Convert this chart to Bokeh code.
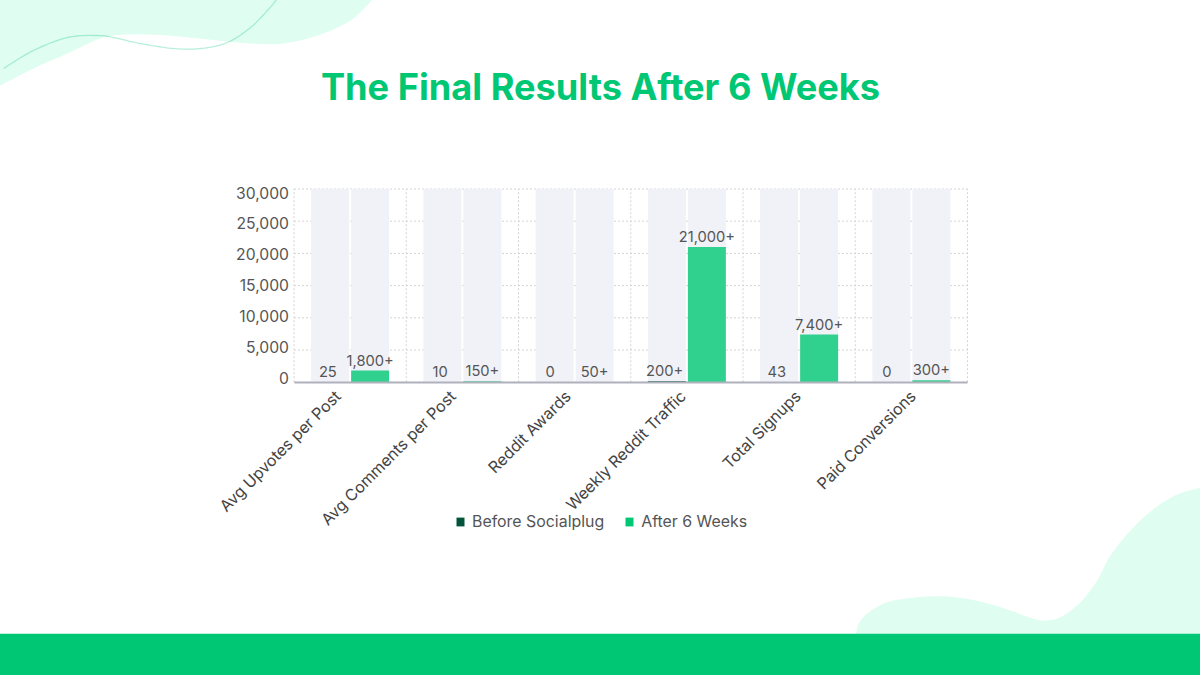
import math
from bokeh.core.properties import value
from bokeh.embed import file_html
from bokeh.resources import INLINE
from bokeh.plotting import figure
from bokeh.models import (ColumnDataSource, Range1d, FixedTicker, LabelSet, Label, LinearAxis,
                          Legend, LegendItem, PolyAnnotation)

categories = ["Avg Upvotes per Post", "Avg Comments per Post", "Reddit Awards",
              "Weekly Reddit Traffic", "Total Signups", "Paid Conversions"]
before_values = [25, 10, 0, 200, 43, 0]
after_values = [1800, 150, 50, 21000, 7400, 300]
before_labels = ["25", "10", "0", "200+", "43", "0"]
after_labels = ["1,800+", "150+", "50+", "21,000+", "7,400+", "300+"]
y_ticks = [0, 5000, 10000, 15000, 20000, 25000, 30000]
y_max = 30000
series_names = ["Before Socialplug", "After 6 Weeks"]

W, H = 1201, 676
L, R, T, B = 294.5, 968, 189.5, 382.7   # chart area in canvas pixels
GREEN, DARK, MINT = "#00c774", "#01543a", "#e0fdf1"
FONT = "Inter"
NOTHING = float("nan")


def smooth(pts, n=14):
    out = []
    P = [pts[0]] + list(pts) + [pts[-1]]
    for i in range(1, len(P) - 2):
        p0, p1, p2, p3 = P[i - 1], P[i], P[i + 1], P[i + 2]
        for k in range(n):
            t = k / n
            out.append(tuple(0.5 * (2 * p1[a] + (p2[a] - p0[a]) * t
                                    + (2 * p0[a] - 5 * p1[a] + 4 * p2[a] - p3[a]) * t * t
                                    + (3 * p1[a] - p0[a] - 3 * p2[a] + p3[a]) * t ** 3) for a in (0, 1)))
    out.append(pts[-1])
    return out


def poly(pts, **kw):
    # canvas is drawn one pixel up and left of the page origin
    p.add_layout(PolyAnnotation(xs=[q[0] + 1 for q in pts], ys=[q[1] + 1 for q in pts], xs_units="canvas",
                                ys_units="canvas", level="underlay", **kw))


n = len(categories)
centers = [i + 0.5 for i in range(n)]
px_x = (R - L) / n
px_y = (B - T) / y_max
bar_w, shift = 38 / px_x, 20 / px_x

src = ColumnDataSource(dict(
    before_x=[c - shift for c in centers], after_x=[c + shift for c in centers],
    before=before_values, after=after_values,
    before_label=before_labels, after_label=after_labels,
    before_dx=[-4.5 if t == "0" else -2.3 for t in before_labels],
    top=[y_max] * n))

# The frame fills the whole canvas so that the decoration is not clipped;
# the ranges are extended so that the chart scale lands on the chart area.
p = figure(width=W, height=H, output_backend="svg", toolbar_location=None,
           x_range=Range1d(-L / px_x, (W - L) / px_x), y_range=Range1d(-(H - B) / px_y, B / px_y),
           x_axis_location=None, y_axis_location=None,
           min_border=0, background_fill_color="white", border_fill_color="white", outline_line_color=None,
           styles={"margin": "-1px 0 0 -1px"})
p.grid.visible = False

# background decoration
poly(smooth([(-2, 86), (33, 68), (67, 53), (100, 38), (127, 34), (167, 35), (217, 40), (250, 43), (283, 43),
             (317, 35), (350, 20), (372, -1)]) + [(-2, -2)],
     fill_color=MINT, fill_alpha=1, line_alpha=0)
br = [(45, 462), (60, 420), (100, 385), (160, 360), (280, 347), (380, 355), (480, 380), (570, 412), (610, 420),
      (660, 410), (720, 365), (770, 300), (810, 225), (870, 150), (940, 85), (1010, 42), (1080, 22)]
poly(smooth([(840 + a / 3, 480 + b / 3) for a, b in br]) + [(1202, 487), (1202, 640)],
     fill_color=MINT, fill_alpha=1, line_alpha=0)
poly([(-2, 633.2), (1202, 633.2), (1202, 677), (-2, 677)], fill_color=GREEN, fill_alpha=1, line_alpha=0)
curve = smooth([(3, 68), (33, 50), (67, 37), (97, 35), (113, 37), (140, 43), (173, 48), (200, 48), (227, 42),
                (250, 27), (267, 10), (277, -2)])
poly(curve + curve[::-1], fill_alpha=0, line_color="#10c983", line_width=1.3)

# grid, limited to the chart area
GRID = dict(line_color="#d4d4d4", line_dash=value([2, 2]), line_width=1)
p.segment(x0=list(range(n + 1)), x1=list(range(n + 1)), y0=[0] * (n + 1), y1=[y_max] * (n + 1), **GRID)
p.segment(x0=[0] * len(y_ticks), x1=[n] * len(y_ticks), y0=y_ticks, y1=y_ticks, **GRID)

# axes, drawn at fixed places inside the full-canvas frame
x_label_pos = [c + (-12.5 + 2.75 * i) / px_x for i, c in enumerate(centers)]
xaxis = LinearAxis(fixed_location=0, bounds=(0, n), ticker=FixedTicker(ticks=x_label_pos),
                   major_label_overrides=dict(zip(x_label_pos, categories)),
                   major_label_orientation=math.pi / 4, major_label_text_font=FONT,
                   major_label_text_font_size="16px", major_label_text_color="#444444",
                   major_tick_line_color=None, minor_tick_line_color=None,
                   axis_line_color="#b0b1bd", axis_line_width=2, major_label_standoff=5)
p.add_layout(xaxis, "below")

y_label_pos = [round(620 + v * 0.961) for v in y_ticks]
yaxis = LinearAxis(fixed_location=0, ticker=FixedTicker(ticks=y_label_pos),
                   major_label_overrides={pos: f"{v:,}" for pos, v in zip(y_label_pos, y_ticks)},
                   major_label_text_font=FONT, major_label_text_font_size="15.7px", major_label_text_color="#555555",
                   major_tick_line_color=None, minor_tick_line_color=None, axis_line_color=None,
                   major_label_standoff=-1)
p.add_layout(yaxis, "left")

# bars
p.vbar(x="before_x", top="top", width=bar_w, source=src, color="#f1f2f8", line_alpha=0)
p.vbar(x="after_x", top="top", width=bar_w, source=src, color="#f1f2f8", line_alpha=0)
p.vbar(x="before_x", top="before", width=bar_w, source=src, fill_color=DARK, fill_alpha=0.8, line_alpha=0)
p.vbar(x="after_x", top="after", width=bar_w, source=src, fill_color=GREEN, fill_alpha=0.8, line_alpha=0)

p.add_layout(LabelSet(x="before_x", y="before", text="before_label", source=src, text_align="center",
                      text_baseline="bottom", y_offset=5, x_offset="before_dx",
                      text_font=value(FONT), text_font_size="14.7px", text_color="#555555"))
p.add_layout(LabelSet(x="after_x", y="after", text="after_label", source=src, text_align="center",
                      text_baseline="bottom", y_offset=5, x_offset=0,
                      text_font=value(FONT), text_font_size="14.7px", text_color="#555555"))

# legend swatches are opaque, unlike the bars
swatch_before = p.vbar(x=[NOTHING], top=[NOTHING], width=0.1, fill_color=DARK, line_alpha=0)
swatch_after = p.vbar(x=[NOTHING], top=[NOTHING], width=0.1, fill_color=GREEN, line_alpha=0)
legend = Legend(items=[LegendItem(label=series_names[0], renderers=[swatch_before]),
                       LegendItem(label=series_names[1], renderers=[swatch_after])],
                orientation="horizontal", location=(450, 138), background_fill_alpha=0, border_line_alpha=0,
                glyph_width=10, glyph_height=11, label_text_font=FONT, label_text_font_size="15.9px",
                label_text_color="#555555", spacing=20, label_standoff=7, padding=6, margin=0)
p.add_layout(legend, "center")

p.add_layout(Label(x=601, y=H - 87, x_units="screen", y_units="screen", text="The Final Results After 6 Weeks",
                   text_align="center", text_baseline="middle", text_font=FONT, text_font_style="bold",
                   text_font_size="36.2px", text_color=GREEN))

open("out.html", "w").write(file_html(p, INLINE))
